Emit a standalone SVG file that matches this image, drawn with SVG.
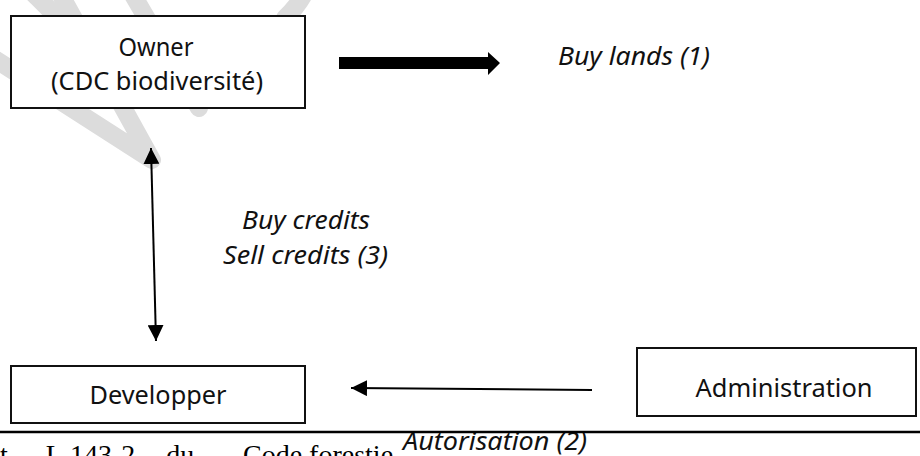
<svg xmlns="http://www.w3.org/2000/svg" width="920" height="456" viewBox="0 0 920 456">
<style>
.wm{fill:none;stroke:#dcdcdc;stroke-width:18;stroke-linecap:round;stroke-linejoin:round}
.box{fill:#fff;stroke:#111;stroke-width:2}
.t{font-family:"Noto Sans","Liberation Sans",sans-serif;font-size:24.5px;fill:#111;text-anchor:middle}
.it{font-family:"Noto Sans","Liberation Sans",sans-serif;font-size:24.5px;font-style:italic;fill:#111}
.ser{font-family:"Liberation Serif","Times New Roman",serif;font-size:28px;fill:#000}
.ln{fill:none;stroke:#000;stroke-width:2}
</style>
<defs>
<marker id="ah" viewBox="0 0 16 16" refX="16" refY="8" markerWidth="16" markerHeight="16" markerUnits="userSpaceOnUse" orient="auto-start-reverse">
<path d="M0,0 L16,8 L0,16 Z" fill="#000"/>
</marker>
</defs>
<rect width="920" height="456" fill="#fff"/>
<g id="watermark">
<path class="wm" d="M-10,56 L152,160 L58,-10"/>
<path class="wm" d="M30,-10 L62,22"/>
<path class="wm" d="M133,-5 L199,108"/>
<path class="wm" d="M305,-8 Q298,6 285,18"/>
</g>
<g id="owner">
<rect class="box" x="11" y="16" width="294" height="92"/>
<text class="t" x="156" y="56" textLength="75" lengthAdjust="spacingAndGlyphs">Owner</text>
<text class="t" x="157" y="90" textLength="212" lengthAdjust="spacingAndGlyphs">(CDC biodiversité)</text>
</g>
<g id="developper">
<rect class="box" x="11" y="366" width="294" height="57"/>
<text class="t" x="158" y="404" textLength="137" lengthAdjust="spacingAndGlyphs">Developper</text>
</g>
<g id="administration">
<rect class="box" x="637" y="348" width="279" height="68"/>
<text class="t" x="784" y="397" textLength="177" lengthAdjust="spacingAndGlyphs">Administration</text>
</g>
<g id="connectors">
<polygon points="339,57 488,57 488,52 500,63 488,75 488,69 339,69" fill="#000"/>
<line class="ln" x1="151" y1="148" x2="156" y2="341" marker-start="url(#ah)" marker-end="url(#ah)"/>
<line class="ln" x1="592" y1="390" x2="351" y2="388" marker-end="url(#ah)"/>
</g>
<g id="labels">
<text class="it" x="558" y="65" textLength="152" lengthAdjust="spacingAndGlyphs">Buy lands (1)</text>
<text class="it" x="242" y="229" textLength="128" lengthAdjust="spacingAndGlyphs">Buy credits</text>
<text class="it" x="223" y="264" textLength="165" lengthAdjust="spacingAndGlyphs">Sell credits (3)</text>
<text class="it" x="403" y="450" textLength="184" lengthAdjust="spacingAndGlyphs">Autorisation (2)</text>
</g>
<line x1="0" y1="432" x2="920" y2="432" stroke="#000" stroke-width="2.5"/>
<text class="ser" x="0" y="464" word-spacing="24">t. L.143-2 du</text>
<text class="ser" x="243" y="464">Code forestie</text>
</svg>
